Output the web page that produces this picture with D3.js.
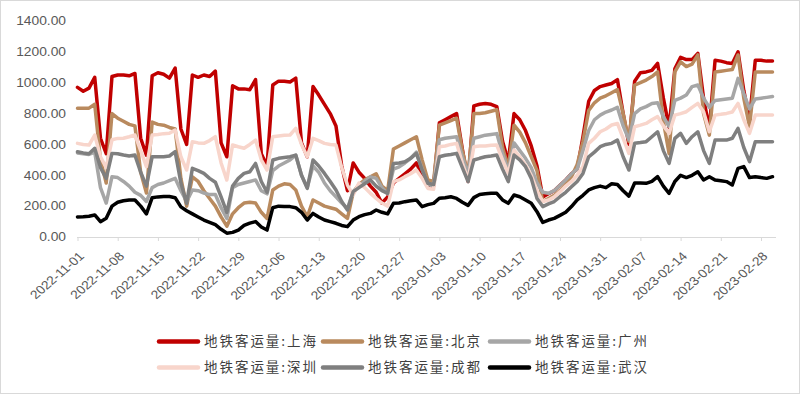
<!DOCTYPE html>
<html>
<head>
<meta charset="utf-8">
<script src="https://cdn.jsdelivr.net/npm/d3@7"></script>
<style>
	body { margin: 0; background: #fff; }
	svg { display: block; }
</style>
</head>
<body>
<div id="chart"></div>
<script>
"use strict";

// daily values, 2022-11-01 .. 2023-03-02 (one row per week, Mon..Sun)
var startDate = new Date(Date.UTC(2022, 10, 1));

var shanghai = [
	970, 945, 965, 1035, 640, 540,
	1040, 1050, 1050, 1045, 1060, 640, 530,
	1045, 1065, 1055, 1030, 1095, 700, 600,
	1050, 1035, 1050, 1040, 1075, 610, 520,
	980, 960, 960, 955, 1020, 540, 460,
	985, 1010, 1010, 1005, 1030, 610, 520,
	975, 920, 860, 800, 720, 460, 300,
	480, 420, 380, 330, 290, 220, 260,
	350, 380, 410, 440, 480, 400, 330,
	330, 740, 760, 780, 800, 570, 360,
	850, 860, 865, 860, 845, 620, 490,
	800, 760, 690, 590, 460, 260, 280,
	300, 335, 370, 410, 440, 650, 880,
	950, 975, 985, 995, 1020, 800, 600,
	1010, 1065, 1070, 1080, 1125, 900, 710,
	1090, 1165, 1150, 1150, 1190, 900, 700,
	1145, 1140, 1130, 1125, 1200, 950, 760,
	1145, 1145, 1140, 1140
];

var beijing = [
	835, 835, 835, 860, 500, 350,
	800, 770, 750, 730, 720, 420, 285,
	745, 730, 725, 710, 700, 380, 200,
	390, 360, 300, 250, 200, 130, 70,
	150, 190, 220, 225, 220, 160, 120,
	305, 330, 345, 340, 305, 200, 130,
	240, 220, 200, 190, 180, 150, 120,
	290, 340, 370, 390, 410, 330, 300,
	570, 590, 610, 630, 650, 500, 370,
	360, 725, 740, 755, 770, 560, 400,
	800, 800, 805, 815, 825, 580, 450,
	725, 680, 610, 520, 430, 230, 250,
	270, 300, 340, 390, 470, 620, 820,
	870, 900, 915, 935, 955, 800, 620,
	985, 1000, 1017, 1040, 1070, 750, 540,
	1070, 1135, 1105, 1120, 1180, 800, 660,
	1070, 1075, 1080, 1085, 1180, 900, 715,
	1070, 1070, 1070, 1070
];

var guangzhou = [
	545, 540, 535, 550, 320, 220,
	390, 385, 360, 330, 290, 270, 230,
	320, 340, 350, 365, 380, 300, 230,
	305, 300, 285, 275, 275, 190, 120,
	320, 340, 350, 360, 370, 300, 280,
	430, 460, 480, 500, 530, 400, 320,
	460, 420, 350, 300, 260, 220, 185,
	295, 330, 360, 390, 380, 320, 280,
	440, 455, 480, 510, 550, 440, 340,
	330, 630, 640, 645, 650, 520, 410,
	640, 650, 660, 665, 670, 540, 430,
	610, 560, 510, 450, 350, 290, 283,
	300, 335, 370, 410, 440, 560, 690,
	760, 790, 810, 823, 840, 720, 630,
	800, 830, 845, 865, 870, 780, 715,
	885, 900, 920, 975, 985, 900, 840,
	885, 890, 895, 900, 1028, 930, 830,
	895, 900, 905, 910
];

var shenzhen = [
	607, 600, 596, 661, 520, 450,
	630, 639, 640, 650, 661, 560, 456,
	661, 665, 670, 672, 693, 520, 434,
	618, 610, 607, 625, 650, 480, 369,
	596, 585, 575, 600, 628, 500, 434,
	650, 655, 660, 661, 704, 600, 520,
	639, 625, 607, 600, 596, 450, 337,
	272, 350, 320, 283, 250, 220, 200,
	359, 370, 391, 410, 434, 380, 315,
	310, 585, 590, 600, 607, 480, 369,
	585, 590, 590, 595, 596, 500, 412,
	564, 520, 467, 400, 300, 230, 240,
	260, 294, 330, 360, 400, 456, 607,
	640, 682, 700, 726, 736, 640, 542,
	715, 725, 736, 760, 780, 720, 672,
	790, 800, 812, 840, 866, 812, 682,
	790, 795, 801, 810, 866, 760, 672,
	790, 790, 790, 790
];

var chengdu = [
	553, 545, 540, 575, 450, 380,
	542, 540, 531, 525, 531, 420, 330,
	520, 520, 520, 525, 553, 350, 218,
	445, 430, 412, 380, 355, 260, 160,
	330, 380, 412, 423, 477, 360, 290,
	499, 510, 515, 520, 531, 400, 315,
	499, 460, 412, 360, 305, 230, 175,
	294, 320, 345, 369, 330, 300, 283,
	477, 480, 488, 510, 542, 434, 348,
	340, 520, 530, 535, 542, 450, 359,
	499, 510, 520, 525, 531, 440, 359,
	531, 500, 456, 380, 250, 197, 215,
	230, 261, 290, 326, 360, 412, 520,
	550, 585, 600, 607, 628, 520, 434,
	607, 612, 618, 650, 682, 560, 477,
	639, 672, 607, 650, 682, 560, 477,
	628, 628, 628, 640, 704, 580, 488,
	618, 618, 618, 618
];

var wuhan = [
	130, 132, 135, 143, 99, 121,
	200, 225, 235, 240, 240, 200, 150,
	255, 260, 262, 262, 255, 195, 170,
	150, 130, 110, 95, 80, 50, 25,
	30, 45, 75, 90, 100, 65, 45,
	190, 200, 197, 197, 190, 160, 110,
	153, 130, 110, 100, 89, 75, 67,
	110, 132, 145, 153, 175, 160, 150,
	218, 220, 229, 235, 240, 197, 210,
	218, 251, 255, 261, 250, 225, 205,
	255, 275, 280, 283, 283, 240, 218,
	272, 261, 240, 218, 164, 95, 110,
	121, 140, 160, 197, 240, 270, 305,
	320, 330, 320, 345, 340, 300, 265,
	350, 350, 348, 360, 391, 330, 283,
	360, 400, 385, 400, 423, 370, 391,
	369, 365, 359, 337, 445, 456, 385,
	391, 385, 380, 391
];

var seriesNames = ["地铁客运量:上海", "地铁客运量:北京", "地铁客运量:广州",
	"地铁客运量:深圳", "地铁客运量:成都", "地铁客运量:武汉"];
var seriesColors = ["#c00000", "#b98a5e", "#a6a6a6", "#f8d5cb", "#7f7f7f", "#000000"];
var yTicks = [0, 200, 400, 600, 800, 1000, 1200, 1400];

var allSeries = [shanghai, beijing, guangzhou, shenzhen, chengdu, wuhan];

var dates = shanghai.map(function (d, i) { return d3.utcDay.offset(startDate, i); });
var xTicks = d3.utcDay.range(startDate, new Date(Date.UTC(2023, 2, 1)), 7);

var width = 800, height = 394;

var svg = d3.select("#chart").append("svg")
	.attr("width", width)
	.attr("height", height);

// chart border
svg.append("rect")
	.attr("x", 0.5).attr("y", 0.5)
	.attr("width", width - 1).attr("height", height - 1)
	.style("fill", "#fff")
	.style("stroke", "#d9d9d9");

var x = d3.scaleUtc().domain([dates[0], dates[dates.length - 1]]).range([77.5, 772.5]);
var y = d3.scaleLinear().domain([0, 1400]).range([237, 21]);

// y axis labels
var gy = svg.append("g")
	.attr("transform", "translate(66,0)")
	.call(d3.axisLeft(y).tickValues(yTicks).tickSize(0).tickPadding(0).tickFormat(d3.format(".2f")));
gy.select(".domain").remove();
gy.selectAll(".tick text")
	.attr("transform", "scale(1.15,1)")
	.style("font-family", "'Liberation Sans', Arial, sans-serif")
	.style("font-size", "12px")
	.style("fill", "#595959");

// x axis
var gx = svg.append("g")
	.attr("transform", "translate(0,237)")
	.call(d3.axisBottom(x).tickValues(xTicks).tickSize(4).tickSizeOuter(0)
		.tickFormat(d3.utcFormat("%Y-%m-%d")));
gx.select(".domain").attr("d", "M77,0.5H776").style("stroke", "#d9d9d9");
gx.selectAll(".tick line").style("stroke", "#d9d9d9");
gx.selectAll(".tick text")
	.attr("x", 0).attr("y", 0).attr("dy", 0)
	.attr("text-anchor", "end")
	.attr("transform", "translate(7,20) scale(1.15,1) rotate(-45)")
	.style("font-family", "'Liberation Sans', Arial, sans-serif")
	.style("font-size", "12px")
	.style("fill", "#595959");

// lines
var line = d3.line()
	.x(function (d, i) { return x(dates[i]); })
	.y(function (d) { return y(d); });

svg.selectAll(".series").data(allSeries)
	.enter().append("path")
	.attr("class", "series")
	.attr("d", line)
	.style("fill", "none")
	.style("stroke", function (d, i) { return seriesColors[i]; })
	.style("stroke-width", 3.5)
	.style("stroke-linejoin", "round")
	.style("stroke-linecap", "round");

// legend
var legendCols = [157, 321, 488];
var legendRows = [341.5, 367.5];

var legend = svg.selectAll(".legendItem").data(seriesNames)
	.enter().append("g")
	.attr("class", "legendItem")
	.attr("transform", function (d, i) {
		return "translate(" + legendCols[i % 3] + "," + legendRows[Math.floor(i / 3)] + ")";
	});

legend.append("line")
	.attr("x1", 2).attr("x2", 41)
	.style("stroke", function (d, i) { return seriesColors[i]; })
	.style("stroke-width", 4.5)
	.style("stroke-linecap", "round");

legend.append("text")
	.attr("x", 47)
	.attr("dy", "0.36em")
	.attr("textLength", 112)
	.attr("lengthAdjust", "spacing")
	.style("font-family", "'Noto Sans CJK SC', sans-serif")
	.style("font-size", "13.5px")
	.style("fill", "#404040")
	.text(function (d) { return d; });
</script>
</body>
</html>
